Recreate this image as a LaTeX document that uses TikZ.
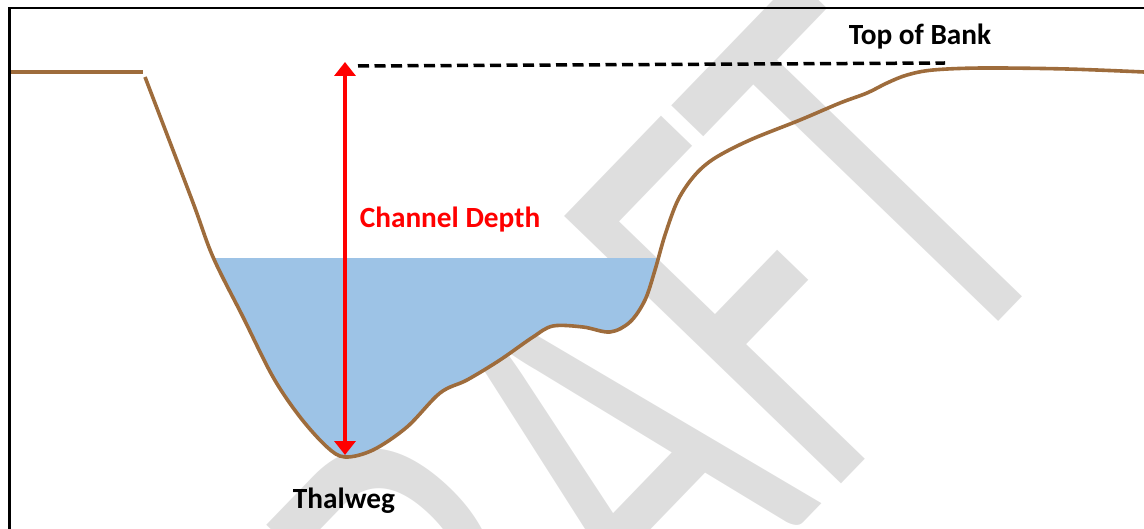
\documentclass[tikz,border=0pt]{standalone}
\usepackage{fontspec}
\setmainfont{Carlito}
\newfontfamily\wmfont{Carlito}
\usetikzlibrary{arrows.meta}
\definecolor{bankbrown}{RGB}{158,108,60}
\definecolor{waterblue}{RGB}{157,195,230}
\definecolor{wmgray}{RGB}{222,222,222}
\definecolor{depthred}{RGB}{255,0,0}
\tikzset{depthtip/.tip={Triangle[width=21pt,length=14pt]}}
\begin{document}
\begin{tikzpicture}[x=1pt,y=-1pt,
  bankline/.style={draw=bankbrown, line width=3.6pt, line join=round},
  lbl/.style={font=\fontsize{29.3}{30}\selectfont\bfseries, inner sep=0pt, anchor=base},
  framelines/.style={draw=black, line width=2.5pt}]
\useasboundingbox (0,0) rectangle (1144,529);
% watermark
\node[text=wmgray, font=\wmfont\fontsize{600}{600}\selectfont, rotate=46, xscale=0.64, anchor=base, inner sep=0pt] (wm) at (718,612) {DRAFT};
% water
\begin{scope}
\clip (0,258.5) rectangle (1144,529);
\fill[waterblue] plot[smooth,tension=0.55] coordinates{(145,77) (192,200) (213,257) (243,317) (273,377) (300,417) (327,447) (345,457) (373,450) (407,427) (440,393) (467,380) (500,360) (533,337) (553,326) (583,327) (610,332) (630,322) (645,300) (655,270) (665,235) (678,200) (695,175) (715,158) (750,140) (800,120) (840,103) (867,93) (887,83) (907,75) (933,70) (983,68) (1067,69) (1144,72)} -- cycle;
\end{scope}
% ground
\draw[bankline] (9,72) -- (143,72);
\draw[bankline] plot[smooth,tension=0.55] coordinates{(145,77) (192,200) (213,257) (243,317) (273,377) (300,417) (327,447) (345,457) (373,450) (407,427) (440,393) (467,380) (500,360) (533,337) (553,326) (583,327) (610,332) (630,322) (645,300) (655,270) (665,235) (678,200) (695,175) (715,158) (750,140) (800,120) (840,103) (867,93) (887,83) (907,75) (933,70) (983,68) (1067,69) (1144,72)};
% dashed top of bank
\coordinate (dashL) at (358,66);
\coordinate (dashR) at (945,63);
\draw[black, line width=3.5pt, dash pattern=on 11pt off 5.5pt] (dashL) -- (dashR);
% depth arrow
\coordinate (bottom) at (345,455);
\coordinate (top) at (345,62);
\draw[depthred, line width=4pt, depthtip-depthtip] (bottom) -- (top);
% labels
\node[lbl] (tob) at (920,45) {Top of Bank};
\node[lbl, text=depthred] (cd) at (450,228) {Channel Depth};
\node[lbl] (thw) at (344,508) {Thalweg};
% frame
\draw[framelines] (9.5,529) -- (9.5,7.8) -- (1144,7.8);
\end{tikzpicture}
\end{document}
